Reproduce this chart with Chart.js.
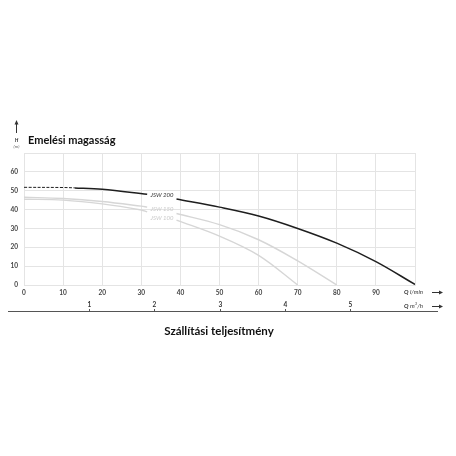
<!DOCTYPE html>
<html>
<head>
<meta charset="utf-8">
<script src="https://cdn.jsdelivr.net/npm/chart.js@4.4.1/dist/chart.umd.min.js"></script>
<style>
  html, body { margin: 0; padding: 0; background: #fff; }
  #wrap { width: 456px; height: 456px; position: relative; }
</style>
</head>
<body>
<div id="wrap"><canvas id="c"></canvas></div>
<script>
// flow in l/min, head in m (null = gap behind the curve label)
const jsw200Q = [0, 10, 13, 20, 31.5, 35, 39, 50, 60, 70, 80, 90, 100];
const jsw200H = [51.8, 51.7, 51.5, 50.8, 48.1, null, 45.6, 41.3, 36.6, 30, 22.2, 12.4, 0.3];
const jsw150Q = [0, 10, 20, 30, 31.5, 35, 39, 50, 60, 70, 80];
const jsw150H = [46.5, 45.9, 44.3, 41.8, 41.3, null, 37.9, 32, 24, 12.8, 0];
const jsw100Q = [0, 10, 20, 30, 31.5, 35, 39, 50, 60, 70];
const jsw100H = [45.5, 45, 43, 39.8, 38.8, null, 34.4, 25.9, 15.7, 0];

const dashedUntil = 13; // JSW 200 dashed part
const m3hTicks = [1, 2, 3, 4, 5];
const curveLabels = ['JSW 200', 'JSW 150', 'JSW 100'];
const labelQ = [35.3, 35.3, 35.3];
const labelH = [47.6, 40.2, 35.3];

const toPoints = (q, h) => q.map((v, i) => ({ x: v, y: h[i] }));

const tickFont = { family: 'Lato', size: 6.5, weight: 'bold' };

const decor = {
  id: 'decor',
  afterDatasetsDraw(chart) {
    const ctx = chart.ctx;
    const xs = chart.scales.x, ys = chart.scales.y;
    ctx.save();
    ctx.font = 'italic 6px Lato';
    ctx.textAlign = 'center';
    ctx.textBaseline = 'middle';
    curveLabels.forEach((t, i) => {
      ctx.fillStyle = i === 0 ? '#333' : '#cacaca';
      ctx.fillText(t, xs.getPixelForValue(labelQ[i]), ys.getPixelForValue(labelH[i]));
    });
    ctx.restore();
  },
  afterDraw(chart) {
    const ctx = chart.ctx;
    const xs = chart.scales.x;
    ctx.save();
    // y axis caption
    ctx.strokeStyle = '#333';
    ctx.fillStyle = '#333';
    ctx.lineWidth = 1;
    ctx.beginPath();
    ctx.moveTo(16.5, 133); ctx.lineTo(16.5, 123);
    ctx.stroke();
    ctx.beginPath();
    ctx.moveTo(16.5, 120); ctx.lineTo(14.5, 124.5); ctx.lineTo(18.5, 124.5); ctx.closePath();
    ctx.fill();
    ctx.textAlign = 'center';
    ctx.textBaseline = 'middle';
    ctx.font = 'italic bold 5px Lato';
    ctx.fillText('H', 16.5, 140);
    ctx.font = 'italic 4.5px Lato';
    ctx.fillStyle = '#666';
    ctx.fillText('(m)', 16.5, 146.5);
    ctx.fillStyle = '#111';
    ctx.textAlign = 'left';
    ctx.font = 'bold 11px Lato';
    ctx.fillText('Emelési magasság', 28, 140.5);

    // second flow axis in m3/h
    const lineY = 311.5;
    ctx.strokeStyle = '#555';
    ctx.beginPath();
    ctx.moveTo(8, lineY); ctx.lineTo(438, lineY);
    ctx.stroke();
    ctx.font = 'bold 6.5px Lato';
    ctx.textAlign = 'center';
    ctx.fillStyle = '#333';
    m3hTicks.forEach(v => {
      const px = Math.round(xs.getPixelForValue(v * 1000 / 60)) + 0.5;
      ctx.fillText(String(v), px, 305);
      ctx.beginPath();
      ctx.moveTo(px, 309); ctx.lineTo(px, lineY);
      ctx.stroke();
    });

    // unit labels with arrows
    const unit = (y, main, sup) => {
      ctx.textAlign = 'left';
      ctx.fillStyle = '#333';
      ctx.font = 'italic bold 6px Lato';
      ctx.fillText('Q', 404, y);
      ctx.font = 'italic 6px Lato';
      ctx.fillText(main, 410, y);
      if (sup) {
        const w = ctx.measureText(main).width;
        ctx.font = 'italic 4px Lato';
        ctx.fillText(sup, 410 + w, y - 2);
        ctx.font = 'italic 6px Lato';
        ctx.fillText('/h', 410 + w + ctx.measureText(sup).width - 1, y);
      }
      ctx.strokeStyle = '#333';
      ctx.beginPath();
      ctx.moveTo(432, y + 0.5); ctx.lineTo(440, y + 0.5);
      ctx.stroke();
      ctx.beginPath();
      ctx.moveTo(443, y + 0.5); ctx.lineTo(439, y - 1.5); ctx.lineTo(439, y + 2.5); ctx.closePath();
      ctx.fill();
    };
    unit(292, 'l/min');
    unit(306, 'm', '3');

    // x axis caption
    ctx.fillStyle = '#111';
    ctx.textAlign = 'center';
    ctx.font = 'bold 11.5px Lato';
    ctx.fillText('Szállítási teljesítmény', 219, 331);
    ctx.restore();
  }
};

new Chart(document.getElementById('c'), {
  type: 'line',
  data: {
    datasets: [
      {
        label: 'JSW 100',
        data: toPoints(jsw100Q, jsw100H),
        borderColor: '#d6d6d6',
        borderWidth: 1.4
      },
      {
        label: 'JSW 150',
        data: toPoints(jsw150Q, jsw150H),
        borderColor: '#d6d6d6',
        borderWidth: 1.4
      },
      {
        label: 'JSW 200',
        data: toPoints(jsw200Q, jsw200H),
        borderColor: '#1e1e1e',
        borderWidth: 1.5,
        segment: {
          borderDash: ctx => ctx.p1.parsed.x <= dashedUntil ? [3, 1.5] : undefined,
          borderWidth: ctx => ctx.p1.parsed.x <= dashedUntil ? 1 : 1.5
        }
      }
    ]
  },
  options: {
    responsive: true,
    maintainAspectRatio: false,
    animation: false,
    spanGaps: false,
    elements: { point: { radius: 0 }, line: { tension: 0.35 } },
    layout: { padding: { left: 0, right: 41, top: 153, bottom: 151 } },
    plugins: { legend: { display: false }, tooltip: { enabled: false } },
    scales: {
      x: {
        type: 'linear',
        min: 0,
        max: 100,
        afterFit: s => { s.height = 20; },
        grid: { color: '#e4e4e4', drawTicks: false },
        border: { color: '#e4e4e4' },
        ticks: {
          stepSize: 10,
          padding: 4,
          color: '#444',
          font: tickFont,
          callback: v => v === 100 ? '' : v
        }
      },
      y: {
        min: 0,
        max: 70,
        afterFit: s => { s.width = 24; },
        grid: { color: '#e4e4e4', drawTicks: false },
        border: { color: '#e4e4e4' },
        ticks: {
          stepSize: 10,
          padding: 6,
          color: '#444',
          font: tickFont,
          callback: v => v === 70 ? '' : v
        }
      }
    }
  },
  plugins: [decor]
});
</script>
</body>
</html>
